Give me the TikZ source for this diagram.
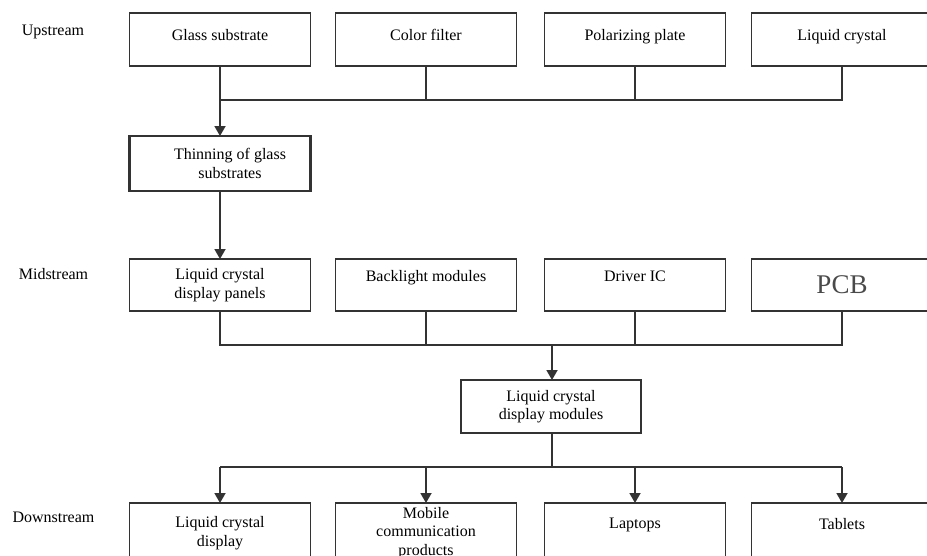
\documentclass[tikz,border=0pt]{standalone}
\usepackage{fontspec}
\setmainfont{Liberation Serif}
\usetikzlibrary{arrows.meta}
\definecolor{ln}{HTML}{333333}
\definecolor{pcbc}{HTML}{4a4a4a}
\begin{document}
\begin{tikzpicture}[x=1pt,y=-1pt,
  box/.style={draw=ln, line width=1.8pt, rectangle, minimum width=181pt, minimum height=53pt,
    inner sep=0pt, outer sep=0pt, align=center, font=\fontsize{16}{18.5}\selectfont, text=black},
  lbl/.style={font=\fontsize{16}{18.5}\selectfont, text=black},
  con/.style={draw=ln, line width=1.8pt},
  arr/.style={con, -{Triangle[width=11pt,length=10pt]}}]
\useasboundingbox (0,0) rectangle (927,555);
\clip (0,0) rectangle (927,555);
\fill[white] (0,0) rectangle (927,555);

% labels
\node[lbl] (up) at (53,32) {Upstream};
\node[lbl] (mid) at (53.5,274) {Midstream};
\node[lbl] (down) at (53.5,517) {Downstream};

% upstream row
\node[box, text depth=9pt] (gs) at (220,39.5) {Glass substrate};
\node[box, text depth=9pt] (cf) at (426,39.5) {Color filter};
\node[box, text depth=9pt] (pp) at (635,39.5) {Polarizing plate};
\node[box, text depth=9pt] (lc) at (842,39.5) {Liquid crystal};

% thinning
\node[box, line width=2.6pt, minimum height=55pt] (thin) at (220,163.5) {\hspace*{20pt}Thinning of glass\\\hspace*{20pt}substrates};

% midstream row
\node[box, minimum height=52pt] (lcdp) at (220,285) {Liquid crystal\\display panels};
\node[box, minimum height=52pt] (bl) at (426,285) {Backlight modules\\\mbox{}};
\node[box, minimum height=52pt] (dic) at (635,285) {Driver IC\\\mbox{}};
\node[box, minimum height=52pt, font=\fontsize{27}{27}\selectfont, text=pcbc] (pcb) at (842,285) {PCB};

% module
\node[box, minimum width=180pt] (mod) at (551,406.5) {Liquid crystal\\display modules};

% downstream row
\node[box, minimum height=60pt] (lcd) at (220,533) {Liquid crystal\\display};
\node[box, minimum height=60pt] (mob) at (426,533) {Mobile\\communication\\products};
\node[box, minimum height=60pt] (lap) at (635,533) {Laptops\\\mbox{}};
\node[box, minimum height=60pt] (tab) at (842,533) {Tablets\\\mbox{}};

% bus coordinates
\coordinate (b1) at (220,100);
\coordinate (b2) at (552,345);
\coordinate (b3) at (552,467);

% upstream connectors
\draw[con] (lc.south) |- (b1);
\draw[con] (cf.south) -- (cf.south |- b1);
\draw[con] (pp.south) -- (pp.south |- b1);
\draw[arr] (gs.south) -- (thin.north);
\draw[arr] (thin.south) -- (lcdp.north);

% midstream connectors
\draw[con] (lcdp.south) |- (pcb.south |- b2) -- (pcb.south);
\draw[con] (bl.south) -- (bl.south |- b2);
\draw[con] (dic.south) -- (dic.south |- b2);
\draw[arr] (b2) -- (mod.north -| b2);

% downstream connectors
\draw[con] (mod.south -| b3) -- (b3);
\draw[con] (lcd.north |- b3) -- (tab.north |- b3);
\draw[arr] (lcd.north |- b3) -- (lcd.north);
\draw[arr] (mob.north |- b3) -- (mob.north);
\draw[arr] (lap.north |- b3) -- (lap.north);
\draw[arr] (tab.north |- b3) -- (tab.north);
\end{tikzpicture}
\end{document}
